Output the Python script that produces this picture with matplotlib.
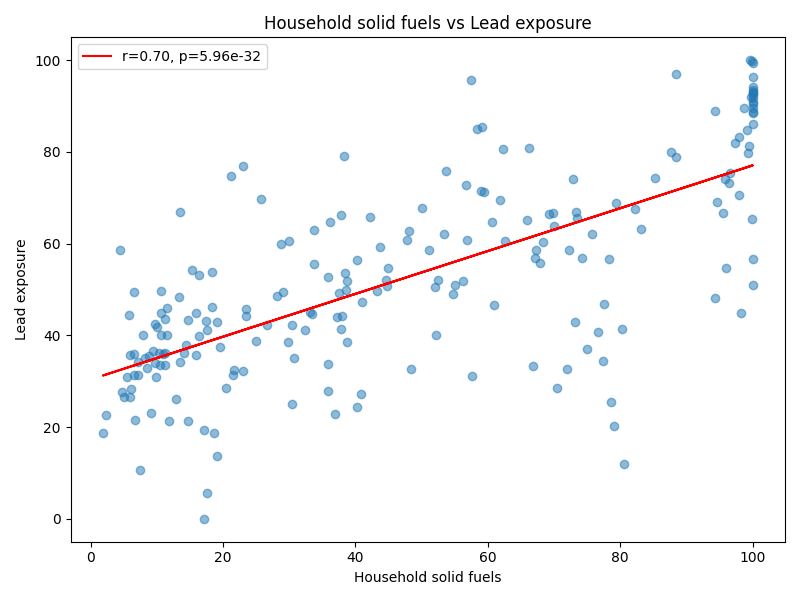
import numpy as np
import matplotlib
matplotlib.use("Agg")
import matplotlib.pyplot as plt

solid_fuels = [
    6.5, 10.7, 13.3, 5.75, 10.7, 11.6, 11.3, 9.8, 10.0, 7.9, 10.7, 11.6, 14.75, 15.9, 18.4, 17.4,
    19.1, 17.6, 16.4, 19.6, 14.45, 14.15, 16.0, 13.5, 6.0, 6.5, 7.1, 8.3, 8.9, 9.5, 10.3, 10.9,
    11.3, 8.6, 9.8, 10.5, 11.3, 5.5, 6.5, 7.1, 9.9, 4.8, 5.1, 5.9, 6.1, 12.9, 2.4, 1.9, 6.65,
    9.2, 11.8, 14.65, 17.1, 18.7, 19.1, 7.4, 17.6, 17.1, 23.5, 23.5, 25.0, 26.7, 28.2, 29.0,
    30.5, 29.9, 30.8, 32.4, 33.15, 33.4, 30.45, 20.5, 21.45, 21.7, 23.05,
    23.05, 21.15, 25.8, 13.5, 4.5, 33.8, 28.8, 30.0, 33.8, 15.4, 16.4, 18.4,
    57.5, 58.4, 59.15, 62.3, 66.3, 38.3, 53.7, 56.7, 59.05, 59.4, 61.8, 50.1, 60.65, 65.9,
    37.8, 36.1, 42.2, 48.1, 47.8, 53.4, 56.8, 62.6, 43.7, 51.1, 40.3, 44.9, 35.8, 38.5,
    38.8, 44.6, 44.75, 52.5, 52.0, 55.0, 56.2, 67.3, 67.2, 67.85,
    37.6, 38.6, 43.3, 41.0, 54.7, 60.95, 37.3, 38.0, 37.8, 38.8, 52.15, 35.8, 48.45, 57.6,
    66.8, 35.8, 40.9, 40.3, 37.0,
    99.65, 99.95, 100.0, 88.5, 100.0, 100.0, 100.0, 100.0, 100.0, 100.0, 100.0, 98.75,
    100.0, 100.0, 100.0, 100.0, 94.4, 99.1, 97.9, 97.4, 99.5, 99.25, 87.65, 88.5, 85.3,
    72.9, 96.65, 95.9, 96.4, 97.9, 79.35, 82.3, 94.6, 95.6, 69.25, 69.85, 73.4, 73.5,
    69.95, 75.7, 83.1, 99.9, 68.3, 72.3, 74.2, 78.3, 96.0, 100.0, 100.0,
    94.4, 98.2, 77.5, 73.2, 76.6, 80.3, 75.0, 77.4, 71.95, 70.45, 78.55, 79.05, 80.55,
    100.0, 99.8, 100.0,
]
lead_exposure = [
    49.4, 49.6, 48.4, 44.4, 44.8, 46.0, 43.5, 42.4, 41.9, 40.1, 40.0, 40.0, 43.3, 44.9, 46.1, 43.1,
    42.9, 41.1, 39.9, 37.4, 38.0, 36.2, 35.7, 34.2, 35.7, 35.9, 34.2, 35.1, 35.4, 36.5, 36.2, 35.9,
    36.2, 32.8, 33.9, 33.5, 33.5, 31.0, 31.3, 31.3, 31.0, 27.7, 26.6, 26.6, 28.3, 26.1, 22.7, 18.7, 21.6,
    23.0, 21.3, 21.3, 19.4, 18.7, 13.7, 10.7, 5.7, 0.0, 45.8, 44.2, 38.8, 42.2, 48.6, 49.4,
    42.2, 38.6, 35.1, 41.2, 45.0, 44.6, 25.1, 28.5, 31.3, 32.5, 32.2,
    76.9, 74.7, 69.65, 67.0, 58.6, 63.0, 59.9, 60.6, 55.6, 54.2, 53.2, 53.9,
    95.6, 84.9, 85.55, 80.6, 80.8, 79.1, 75.8, 72.8, 71.5, 71.2, 69.5, 67.8, 64.7, 65.1,
    66.2, 64.7, 65.8, 62.7, 60.8, 62.1, 60.9, 60.6, 59.3, 58.6, 56.4, 54.8, 52.7, 53.6,
    51.85, 52.1, 50.8, 52.1, 50.5, 50.9, 51.85, 58.6, 56.8, 55.7,
    49.3, 49.9, 49.6, 47.3, 49.0, 46.6, 44.0, 44.2, 41.3, 38.6, 40.1, 33.8, 32.7, 31.2,
    33.3, 27.9, 27.2, 24.4, 22.9,
    100.0, 99.8, 99.3, 96.9, 96.4, 94.2, 93.1, 92.8, 92.4, 91.7, 91.0, 89.5,
    89.5, 88.7, 88.4, 86.2, 88.9, 84.7, 83.3, 81.85, 81.3, 79.7, 80.0, 78.8, 74.4,
    74.0, 75.45, 74.0, 73.3, 70.6, 68.8, 67.5, 69.0, 66.7, 66.4, 66.6, 66.9, 65.5,
    63.8, 62.2, 63.2, 65.3, 60.3, 58.6, 56.8, 56.6, 54.8, 56.6, 50.9,
    48.1, 44.8, 46.8, 42.85, 40.7, 41.5, 37.0, 34.35, 32.6, 28.5, 25.4, 20.3, 12.0,
    93.5, 92.0, 90.5,
]
legend_label = "r=0.70, p=5.96e-32"

x = np.array(solid_fuels)
y = np.array(lead_exposure)
slope, intercept = np.polyfit(x, y, 1)

fig, ax = plt.subplots(figsize=(8, 6), dpi=100)
ax.scatter(x, y, alpha=0.5)
ax.plot(x, slope * x + intercept, color="red", label=legend_label)
ax.set_title("Household solid fuels vs Lead exposure")
ax.set_xlabel("Household solid fuels")
ax.set_ylabel("Lead exposure")
ax.legend(loc="upper left")
fig.tight_layout()
fig.savefig("out.png")
